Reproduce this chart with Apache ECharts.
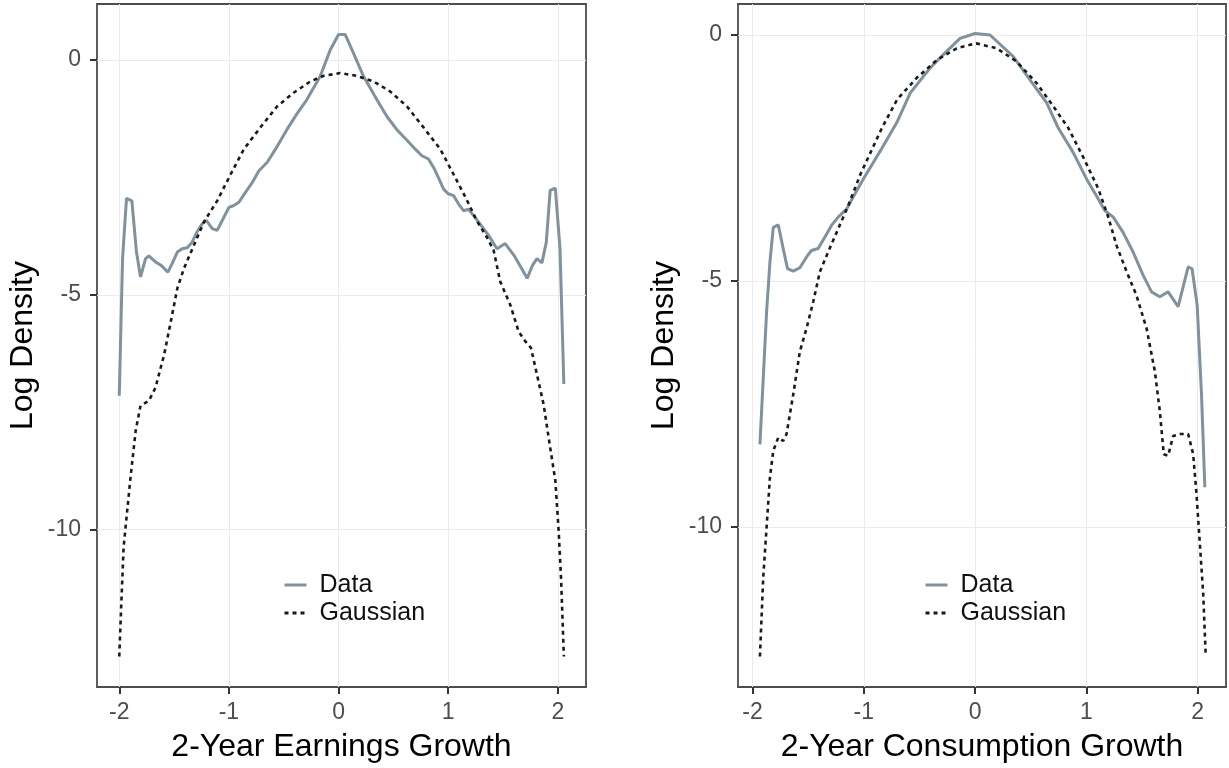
<!DOCTYPE html>
<html>
<head>
<meta charset="utf-8">
<script src="https://cdn.jsdelivr.net/npm/echarts@6/dist/echarts.min.js"></script>
<style>
html,body{margin:0;padding:0;background:#fff;}
#c{width:1229px;height:768px;}
</style>
</head>
<body>
<div id="c"></div>
<script>
// ---- Left panel: 2-Year Earnings Growth ----
const earnDataX = [-2.0,-1.97,-1.934,-1.885,-1.843,-1.806,-1.76,-1.73,-1.67,-1.62,-1.556,-1.517,-1.47,-1.426,-1.38,-1.335,-1.29,-1.244,-1.204,-1.152,-1.107,-1.046,-1.0,-0.955,-0.909,-0.849,-0.787,-0.726,-0.65,-0.575,-0.47,-0.38,-0.29,-0.167,-0.076,0.0,0.061,0.137,0.228,0.35,0.44,0.53,0.62,0.70,0.76,0.82,0.867,0.91,0.958,1.0,1.05,1.095,1.14,1.186,1.23,1.29,1.37,1.445,1.52,1.60,1.67,1.72,1.77,1.81,1.855,1.895,1.93,1.977,2.02,2.055];
const earnDataY = [-7.15,-4.23,-2.95,-3.0,-4.09,-4.62,-4.23,-4.17,-4.30,-4.37,-4.52,-4.33,-4.09,-4.02,-4.0,-3.88,-3.66,-3.49,-3.42,-3.59,-3.63,-3.35,-3.14,-3.10,-3.03,-2.82,-2.61,-2.36,-2.18,-1.90,-1.48,-1.15,-0.85,-0.35,0.21,0.54,0.54,0.14,-0.35,-0.85,-1.2,-1.48,-1.70,-1.90,-2.04,-2.11,-2.29,-2.50,-2.75,-2.85,-2.89,-3.07,-3.21,-3.18,-3.31,-3.49,-3.74,-4.02,-3.91,-4.16,-4.44,-4.65,-4.37,-4.23,-4.32,-3.88,-2.78,-2.73,-4.02,-6.9];
const earnGaussX = [-2.0,-1.98,-1.96,-1.93,-1.90,-1.85,-1.806,-1.73,-1.67,-1.59,-1.53,-1.47,-1.41,-1.32,-1.228,-1.107,-0.985,-0.863,-0.714,-0.56,-0.41,-0.258,-0.137,0.015,0.168,0.32,0.47,0.624,0.776,0.928,1.05,1.17,1.26,1.354,1.414,1.475,1.567,1.642,1.70,1.755,1.81,1.87,1.93,1.977,2.007,2.03,2.055];
const earnGaussY = [-12.7,-11.5,-10.36,-9.66,-8.95,-7.89,-7.36,-7.26,-6.98,-6.27,-5.57,-4.86,-4.44,-3.95,-3.45,-3.0,-2.44,-1.90,-1.44,-0.99,-0.70,-0.46,-0.34,-0.28,-0.34,-0.46,-0.67,-0.99,-1.44,-1.90,-2.44,-2.98,-3.42,-3.78,-4.05,-4.72,-5.22,-5.78,-5.98,-6.13,-6.70,-7.33,-8.25,-8.95,-10.0,-11.06,-12.7];

// ---- Right panel: 2-Year Consumption Growth ----
const consDataX = [-1.933,-1.903,-1.873,-1.843,-1.813,-1.768,-1.724,-1.685,-1.634,-1.574,-1.514,-1.47,-1.41,-1.35,-1.29,-1.23,-1.155,-1.08,-1.005,-0.85,-0.703,-0.583,-0.404,-0.285,-0.135,0.0,0.135,0.344,0.494,0.644,0.748,0.88,1.003,1.092,1.167,1.242,1.33,1.42,1.51,1.586,1.66,1.735,1.825,1.915,1.95,1.996,2.035,2.065];
const consDataY = [-8.32,-6.97,-5.62,-4.61,-3.91,-3.86,-4.34,-4.75,-4.80,-4.73,-4.51,-4.38,-4.34,-4.11,-3.87,-3.70,-3.54,-3.23,-2.93,-2.35,-1.78,-1.18,-0.67,-0.40,-0.07,0.03,0.0,-0.44,-0.91,-1.38,-1.89,-2.38,-2.93,-3.27,-3.57,-3.70,-4.01,-4.41,-4.88,-5.22,-5.32,-5.22,-5.52,-4.71,-4.75,-5.49,-7.31,-9.19];
const consGaussX = [-1.933,-1.903,-1.873,-1.843,-1.813,-1.768,-1.724,-1.694,-1.634,-1.574,-1.514,-1.454,-1.394,-1.32,-1.23,-1.14,-1.03,-0.837,-0.70,-0.523,-0.344,-0.165,0.01,0.195,0.374,0.554,0.703,0.838,0.98,1.107,1.197,1.272,1.362,1.45,1.541,1.616,1.66,1.696,1.735,1.78,1.84,1.915,1.96,1.99,2.02,2.05,2.072];
const consGaussY = [-12.63,-11.01,-10.0,-8.99,-8.45,-8.18,-8.25,-8.11,-7.31,-6.43,-5.96,-5.42,-4.81,-4.41,-3.94,-3.47,-2.83,-1.89,-1.31,-0.87,-0.51,-0.27,-0.17,-0.27,-0.54,-0.98,-1.45,-1.89,-2.52,-3.12,-3.70,-4.28,-4.81,-5.29,-5.96,-6.84,-7.64,-8.52,-8.55,-8.15,-8.11,-8.11,-8.52,-9.33,-10.34,-11.35,-12.57];

const xTicks = [-2,-1,0,1,2];
const yTicks = [0,-5,-10];
const xTitles = ['2-Year Earnings Growth','2-Year Consumption Growth'];
const yTitle = 'Log Density';
const seriesNames = ['Data','Gaussian'];

function zip(xs, ys){ return xs.map((x,i)=>[x, ys[i]]); }

const FONT = 'Liberation Sans, Arial, Helvetica, sans-serif';
const DATA_COLOR = '#7f929d';
const GAUSS_COLOR = '#1a1a1a';

const panels = [
  {grid:{left:97, top:4, width:489, height:687}, xr:[-2.203,2.257], yr:[-13.35,1.19]},
  {grid:{left:738, top:4, width:488, height:687}, xr:[-2.13,2.255], yr:[-13.25,0.63]}
];

function xAxis(i){
  return {
    type:'value', gridIndex:i, min:panels[i].xr[0], max:panels[i].xr[1],
    name:xTitles[i], nameLocation:'middle', nameGap:44,
    nameTextStyle:{fontFamily:FONT, fontSize:32, color:'#000'},
    axisLine:{show:false, onZero:false},
    axisTick:{show:true, length:7, customValues:xTicks, lineStyle:{color:'#333', width:2}},
    axisLabel:{customValues:xTicks, fontFamily:FONT, fontSize:23, color:'#4d4d4d', margin:14},
    splitLine:{show:true, lineStyle:{color:'#ebebeb', width:1}}
  };
}
function yAxis(i){
  return {
    type:'value', gridIndex:i, min:panels[i].yr[0], max:panels[i].yr[1],
    name:yTitle, nameLocation:'middle', nameGap:58,
    nameTextStyle:{fontFamily:FONT, fontSize:32, color:'#000'},
    axisLine:{show:false, onZero:false},
    axisTick:{show:true, length:7, customValues:yTicks, lineStyle:{color:'#333', width:2}},
    axisLabel:{customValues:yTicks, fontFamily:FONT, fontSize:23, color:'#4d4d4d', margin:16},
    splitLine:{show:true, lineStyle:{color:'#ebebeb', width:1}}
  };
}
function legend(i){
  return {
    orient:'vertical', left: panels[i].grid.left + 181, top:566,
    itemWidth:22, itemHeight:14, itemGap:0,
    itemStyle:{opacity:0},
    lineStyle:{width:3},
    textStyle:{fontFamily:FONT, fontSize:25, color:'#111', lineHeight:28, padding:[0,0,0,8]},
    data: seriesNames,
    selectedMode:false
  };
}
function lineSeries(i, name, pts, color, type, width){
  return {
    type:'line', name:name, xAxisIndex:i, yAxisIndex:i, data:pts,
    showSymbol:false, symbol:'none', smooth:false, animation:false,
    lineStyle:{color:color, width:width, type:type, cap:'butt'},
    itemStyle:{color:color},
    z: name==='Data'?2:3
  };
}

const chart = echarts.init(document.getElementById('c'), null, {renderer:'canvas'});
chart.setOption({
  animation:false,
  backgroundColor:'#fff',
  grid: panels.map(p=>Object.assign({show:true, borderColor:'#4d4d4d', borderWidth:1.8, containLabel:false}, p.grid)),
  xAxis:[xAxis(0), xAxis(1)],
  yAxis:[yAxis(0), yAxis(1)],
  legend:[legend(0), legend(1)],
  series:[
    lineSeries(0, seriesNames[0], zip(earnDataX, earnDataY), DATA_COLOR, 'solid', 3),
    lineSeries(0, seriesNames[1], zip(earnGaussX, earnGaussY), GAUSS_COLOR, [4,4], 2.6),
    lineSeries(1, seriesNames[0], zip(consDataX, consDataY), DATA_COLOR, 'solid', 3),
    lineSeries(1, seriesNames[1], zip(consGaussX, consGaussY), GAUSS_COLOR, [4,4], 2.6)
  ]
});
</script>
</body>
</html>
